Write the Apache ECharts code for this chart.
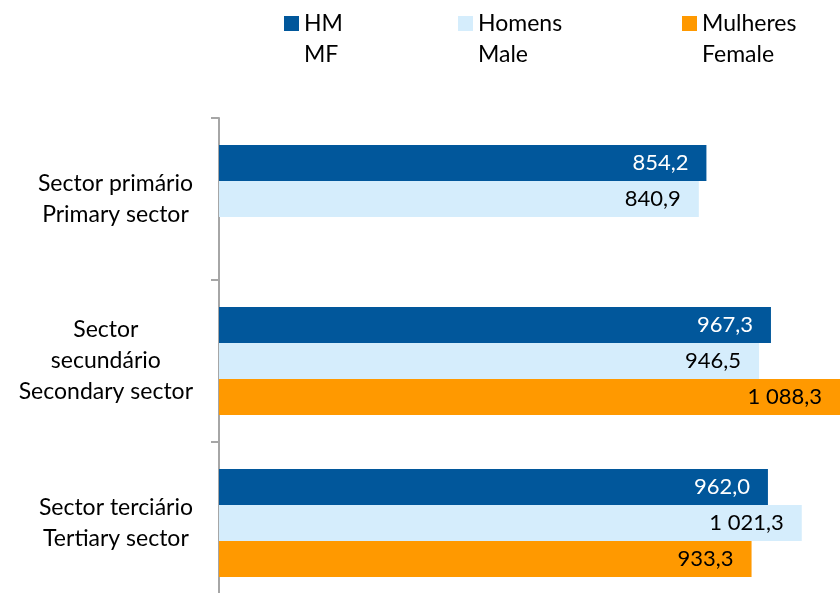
<!DOCTYPE html>
<html>
<head>
<meta charset="utf-8">
<script src="https://cdn.jsdelivr.net/npm/echarts@6/dist/echarts.min.js"></script>
<style>
  html, body { margin: 0; padding: 0; background: #fff; }
  #chart { width: 840px; height: 593px; }
</style>
</head>
<body>
<div id="chart"></div>
<script>
// sectores de actividade
const categories = [
  ['Sector primário', 'Primary sector'],
  ['Sector', 'secundário', 'Secondary sector'],
  ['Sector terciário', 'Tertiary sector']
];
const seriesNames = ['HM', 'Homens', 'Mulheres'];
const seriesSub = ['MF', 'Male', 'Female'];
const hmValues = [854.2, 967.3, 962.0];
const homensValues = [840.9, 946.5, 1021.3];
const mulheresValues = [null, 1088.3, 933.3];

const colors = ['#01579B', '#D5EDFC', '#FF9900'];
const FONT = 'Lato';

// 1 088,3
function fmt(v) {
  const parts = v.toFixed(1).split('.');
  const int = parts[0].replace(/\B(?=(\d{3})+(?!\d))/g, ' ');
  return int + ',' + parts[1];
}

const values = [hmValues, homensValues, mulheresValues];
const legendLeft = [284, 458, 682];

const myChart = echarts.init(document.getElementById('chart'));

const option = {
  animation: false,
  legend: seriesNames.map((name, i) => ({
    data: [name],
    left: legendLeft[i],
    top: -19,
    padding: 0,
    itemWidth: 15,
    itemHeight: 15,
    icon: 'rect',
    selectedMode: false,
    // linha vazia em cima para o quadrado ficar na 1a linha
    formatter: n => '{t| }\n{t|' + n + '}\n{t|' + seriesSub[i] + '}',
    textStyle: {
      rich: {
        t: {
          fontFamily: FONT,
          fontSize: 23,
          color: '#000',
          lineHeight: 31
        }
      }
    }
  })),
  grid: {
    left: 219,
    right: 0,
    top: 118,
    height: 486,
    outerBoundsMode: 'none'
  },
  xAxis: {
    type: 'value',
    min: 0,
    max: 1088.3,
    show: false
  },
  yAxis: {
    type: 'category',
    inverse: true,
    data: categories.map(c => c.join('\n')),
    axisLine: { lineStyle: { color: '#A6A6A6', width: 2 } },
    axisTick: { show: true, length: 8, lineStyle: { color: '#A6A6A6', width: 2 } },
    axisLabel: {
      margin: 26,
      align: 'right',
      formatter: v => v.split('\n').map(s => '{c|' + s + '}').join('\n'),
      rich: {
        c: {
          align: 'center',
          fontFamily: FONT,
          fontSize: 23,
          lineHeight: 31,
          color: '#000'
        }
      }
    }
  },
  series: seriesNames.map((name, i) => ({
    name: name,
    type: 'bar',
    barWidth: 36,
    barGap: '0%',
    itemStyle: { color: colors[i] },
    label: {
      show: true,
      position: 'insideRight',
      distance: 18,
      fontFamily: FONT,
      fontSize: 22,
      color: i === 0 ? '#fff' : '#000',
      formatter: p => fmt(p.value)
    },
    data: values[i]
  }))
};

myChart.setOption(option);
</script>
</body>
</html>
